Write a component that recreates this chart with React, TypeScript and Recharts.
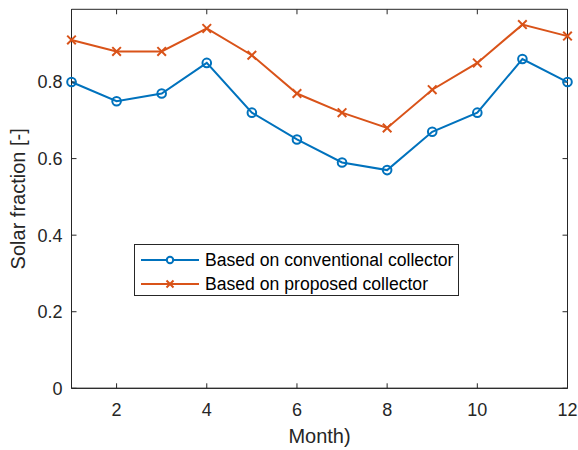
import React from 'react';
import { LineChart, Line, XAxis, YAxis, ReferenceLine, ReferenceArea } from 'recharts';

const months = [1, 2, 3, 4, 5, 6, 7, 8, 9, 10, 11, 12];
const conventional = [0.80, 0.75, 0.77, 0.85, 0.72, 0.65, 0.59, 0.57, 0.67, 0.72, 0.86, 0.80];
const proposed = [0.91, 0.88, 0.88, 0.94, 0.87, 0.77, 0.72, 0.68, 0.78, 0.85, 0.95, 0.92];
const xTicks = [2, 4, 6, 8, 10, 12];
const yTicks = [0, 0.2, 0.4, 0.6, 0.8];
const seriesNames = ['Based on conventional collector', 'Based on proposed collector'];
const xDomain: [number, number] = [1, 12];
const yDomain: [number, number] = [0, 0.99];

const data = months.map((m, i) => ({ month: m, conv: conventional[i], prop: proposed[i] }));

const BLUE = '#0072BD';
const ORANGE = '#D95319';
const AXIS = '#262626';
const FONT = 'Liberation Sans, Arial, Helvetica, sans-serif';

// inward tick length expressed in data units (approx. 5px)
const Y_TICK_LEN = 0.013;
const X_TICK_LEN = 0.11;

const CircleDot = (props: any) => {
  const { cx, cy, index } = props;
  if (cx == null || cy == null) return <g key={index} />;
  return <circle key={index} cx={cx} cy={cy} r={4.3} fill="none" stroke={BLUE} strokeWidth={2} />;
};

const CrossDot = (props: any) => {
  const { cx, cy, index } = props;
  if (cx == null || cy == null) return <g key={index} />;
  const s = 4.3;
  return (
    <path
      key={index}
      d={`M${cx - s},${cy - s}L${cx + s},${cy + s}M${cx - s},${cy + s}L${cx + s},${cy - s}`}
      stroke={ORANGE}
      strokeWidth={2}
      fill="none"
    />
  );
};

const LegendBox = () => (
  <div
    style={{
      position: 'absolute',
      left: 134,
      top: 244,
      width: 323,
      height: 50,
      border: '1px solid #262626',
      background: '#fff',
      fontFamily: FONT,
      fontSize: 17.6,
      color: '#000',
      boxSizing: 'content-box',
    }}
  >
    {[0, 1].map((i) => (
      <div key={i} style={{ display: 'flex', alignItems: 'center', height: 24, marginTop: i === 0 ? 3 : 0 }}>
        <svg width={70} height={24} style={{ display: 'block', flex: 'none' }}>
          <line x1={6} y1={12} x2={64} y2={12} stroke={i === 0 ? BLUE : ORANGE} strokeWidth={2} />
          {i === 0 ? (
            <circle cx={35} cy={12} r={3.2} fill="#fff" stroke={BLUE} strokeWidth={2} />
          ) : (
            <path d="M31.5,8.5L38.5,15.5M31.5,15.5L38.5,8.5" stroke={ORANGE} strokeWidth={2} />
          )}
        </svg>
        <span style={{ whiteSpace: 'nowrap' }}>{seriesNames[i]}</span>
      </div>
    ))}
  </div>
);

export default function App() {
  return (
    <div style={{ position: 'absolute', left: 0, top: 0, width: 578, height: 450, background: '#fff' }}>
      <LineChart
        width={578}
        height={450}
        data={data}
        margin={{ top: 9.3, right: 10.5, left: 0, bottom: 0 }}
      >
        <XAxis
          dataKey="month"
          type="number"
          domain={xDomain}
          ticks={xTicks}
          height={61.7}
          stroke={AXIS}
          tickSize={-5}
          tickMargin={20}
          tick={{ fill: AXIS, fontSize: 18, fontFamily: FONT }}
          label={{ value: 'Month)', position: 'insideBottom', offset: 7, fill: AXIS, fontSize: 20, fontFamily: FONT }}
        />
        <YAxis
          type="number"
          domain={yDomain}
          ticks={yTicks}
          width={71.5}
          stroke={AXIS}
          tickSize={-5}
          tickMargin={14}
          tick={{ fill: AXIS, fontSize: 18, fontFamily: FONT }}
          tickFormatter={(v: number) => (v === 0 ? '0' : String(v))}
          label={{ value: 'Solar fraction [-]', angle: -90, position: 'center', dx: -18, fill: AXIS, fontSize: 20, fontFamily: FONT }}
        />
        <ReferenceArea
          x1={xDomain[0]}
          x2={xDomain[1]}
          y1={yDomain[0]}
          y2={yDomain[1]}
          fill="none"
          fillOpacity={0}
          stroke={AXIS}
          strokeWidth={1}
          strokeOpacity={1}
          ifOverflow="visible"
        />
        {xTicks.map((t) => (
          <ReferenceLine
            key={'tx' + t}
            segment={[{ x: t, y: yDomain[1] }, { x: t, y: yDomain[1] - Y_TICK_LEN }]}
            stroke={AXIS}
            strokeWidth={1}
            ifOverflow="visible"
          />
        ))}
        {yTicks.map((t) => (
          <ReferenceLine
            key={'ty' + t}
            segment={[{ x: xDomain[1], y: t }, { x: xDomain[1] - X_TICK_LEN, y: t }]}
            stroke={AXIS}
            strokeWidth={1}
            ifOverflow="visible"
          />
        ))}
        <Line
          dataKey="conv"
          stroke={BLUE}
          strokeWidth={2}
          dot={CircleDot}
          activeDot={false}
          isAnimationActive={false}
        />
        <Line
          dataKey="prop"
          stroke={ORANGE}
          strokeWidth={2}
          dot={CrossDot}
          activeDot={false}
          isAnimationActive={false}
        />
      </LineChart>
      <LegendBox />
    </div>
  );
}
